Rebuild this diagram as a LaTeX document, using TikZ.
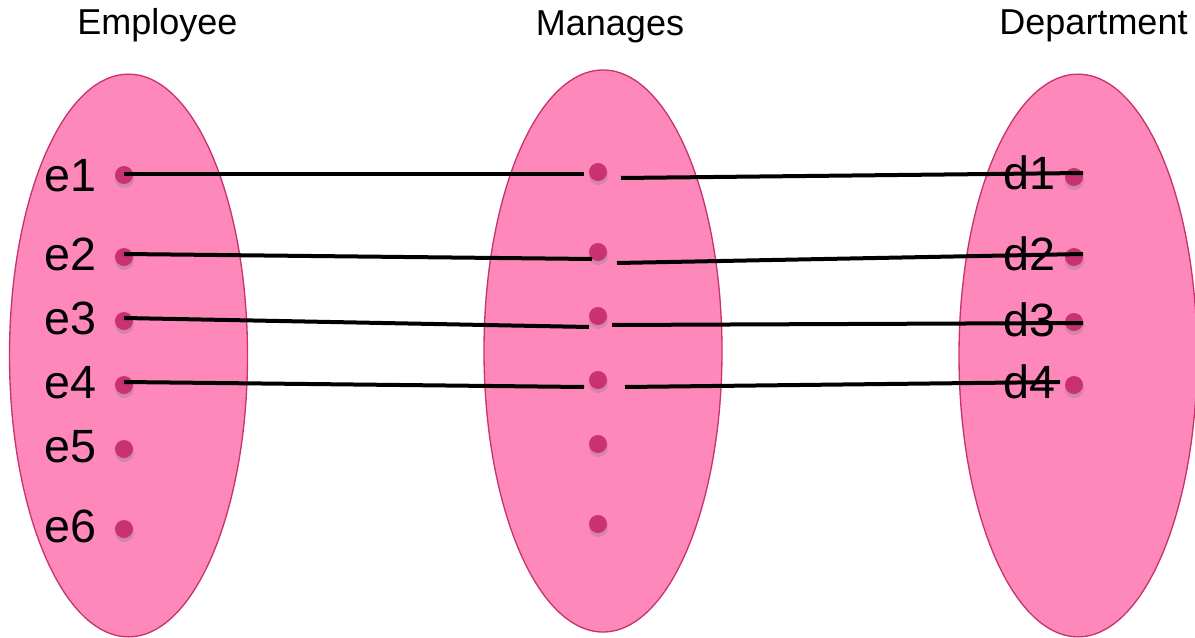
\documentclass[tikz,border=0pt]{standalone}
\usepackage{fontspec}
\setmainfont{Liberation Sans}
\usetikzlibrary{shapes.geometric,shadows}
\definecolor{setfill}{RGB}{255,136,187}
\definecolor{setline}{RGB}{200,51,111}
\definecolor{dotcol}{RGB}{200,51,111}
\tikzset{
  setshape/.style={ellipse, draw=setline, line width=1pt, fill=setfill, inner sep=0pt, minimum width=178.5pt, minimum height=422pt},
  dotnode/.style={circle, fill=dotcol, inner sep=0pt, minimum size=13.5pt,
    circular drop shadow={shadow xshift=0pt, shadow yshift=-2pt, shadow scale=1.15, opacity=0.35}},
  title/.style={font=\fontsize{27}{30}\selectfont, inner sep=0pt, anchor=base},
  lbl/.style={font=\fontsize{35}{40}\selectfont, inner sep=0pt, anchor=base west},
  link/.style={draw=black, line width=3pt}
}
\begin{document}
\begin{tikzpicture}[x=0.75pt,y=-0.75pt]
\useasboundingbox (0,0) rectangle (1195,638);
% titles
\node[title] (tE) at (157.5,35) {Employee};
\node[title] (tM) at (610,36) {Manages};
\node[title] (tD) at (1093.5,35) {Department};
% sets
\node[setshape] (SE) at (128.5,355.5) {};
\node[setshape, minimum height=421.5pt] (SM) at (603,351) {};
\node[setshape] (SD) at (1078,355.5) {};
% labels
\node[lbl] (le1) at (44,191) {e1};
\node[lbl] (le2) at (44,270) {e2};
\node[lbl] (le3) at (44,334) {e3};
\node[lbl] (le4) at (44,398) {e4};
\node[lbl] (le5) at (44,462) {e5};
\node[lbl] (le6) at (44,542) {e6};
\node[lbl] (ld1) at (1003,190) {d1};
\node[lbl] (ld2) at (1003,270) {d2};
\node[lbl] (ld3) at (1003,336) {d3};
\node[lbl] (ld4) at (1003,398) {d4};
% dots
\node[dotnode] (e1) at (124,175) {};
\node[dotnode] (e2) at (124,257) {};
\node[dotnode] (e3) at (124,321) {};
\node[dotnode] (e4) at (124,385) {};
\node[dotnode] (e5) at (124,449) {};
\node[dotnode] (e6) at (124,529) {};
\node[dotnode] (m1) at (598,172) {};
\node[dotnode] (m2) at (598,252) {};
\node[dotnode] (m3) at (598,316) {};
\node[dotnode] (m4) at (598,380) {};
\node[dotnode] (m5) at (598,444) {};
\node[dotnode] (m6) at (598,524) {};
\node[dotnode] (d1) at (1074,177) {};
\node[dotnode] (d2) at (1074,257) {};
\node[dotnode] (d3) at (1074,322) {};
\node[dotnode] (d4) at (1074,385) {};
% connector end points
\coordinate (s1) at (124,174);
\coordinate (s2) at (124,254);
\coordinate (s3) at (124,318);
\coordinate (s4) at (124,382);
\coordinate (a1) at (584,174);
\coordinate (a2) at (592,259);
\coordinate (a3) at (589,327);
\coordinate (a4) at (584,387);
\coordinate (b1) at (621,178);
\coordinate (b2) at (617,263);
\coordinate (b3) at (612,325);
\coordinate (b4) at (625,387);
\coordinate (f1) at (1083,173);
\coordinate (f2) at (1083,254);
\coordinate (f3) at (1083,323);
\coordinate (f4) at (1060,382);
% connectors
\draw[link] (s1) -- (a1);
\draw[link] (s2) -- (a2);
\draw[link] (s3) -- (a3);
\draw[link] (s4) -- (a4);
\draw[link] (b1) -- (f1);
\draw[link] (b2) -- (f2);
\draw[link] (b3) -- (f3);
\draw[link] (b4) -- (f4);
\end{tikzpicture}
\end{document}
